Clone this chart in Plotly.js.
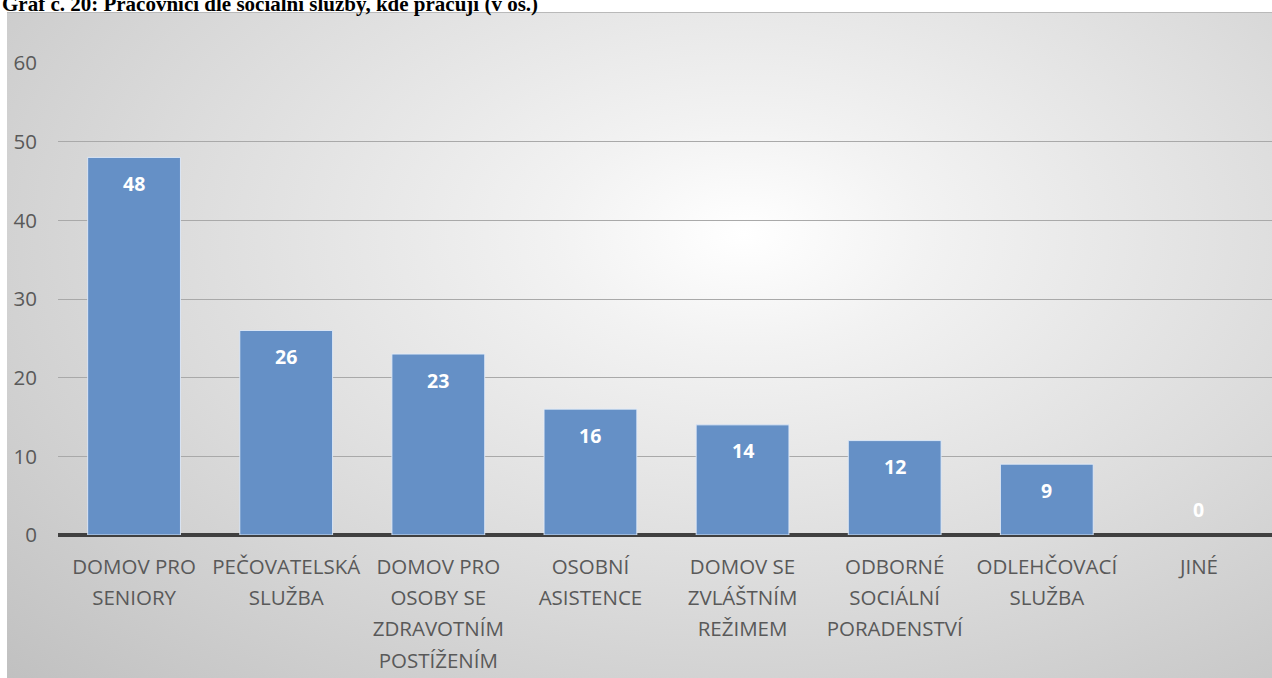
<!DOCTYPE html>
<html>
<head>
<meta charset="utf-8">
<script src="https://cdn.plot.ly/plotly-3.0.1.min.js"></script>
<style>
html, body { margin: 0; padding: 0; overflow: hidden; background: #ffffff; width: 1272px; height: 678px; }
#bg { position: absolute; left: 7px; top: 12px; width: 1270px; height: 670px;
  border-top: 1px solid #b9b9b9;
  background: radial-gradient(ellipse farthest-corner at 58% 33%, #ffffff 0%, #f2f2f2 18%, #dcdcdc 55%, #c0c0c0 100%); }
#chart { position: absolute; left: 0; top: 0; width: 1275px; height: 678px; }
</style>
</head>
<body>
<div id="bg"></div>
<div id="chart"></div>
<script>
const titleText = 'Graf č. 20: Pracovníci dle sociální služby, kde pracují (v os.)';
const categories = [
  'DOMOV PRO<br>SENIORY',
  'PEČOVATELSKÁ<br>SLUŽBA',
  'DOMOV PRO<br>OSOBY SE<br>ZDRAVOTNÍM<br>POSTÍŽENÍM',
  'OSOBNÍ<br>ASISTENCE',
  'DOMOV SE<br>ZVLÁŠTNÍM<br>REŽIMEM',
  'ODBORNÉ<br>SOCIÁLNÍ<br>PORADENSTVÍ',
  'ODLEHČOVACÍ<br>SLUŽBA',
  'JINÉ'
];
const values = [48, 26, 23, 16, 14, 12, 9, 0];
const yTicks = [0, 10, 20, 30, 40, 50, 60];

const tickText = categories.map(c => c.split('<br>').map(l => '<span style="font-size:20.5px">' + l + '</span>').join('<br>'));

const trace = {
  type: 'bar',
  x: categories,
  y: values,
  marker: {
    color: '#6590c6',
    line: { color: 'rgba(225,235,248,0.9)', width: values.map(v => v > 0 ? 1 : 0) }
  },
  hoverinfo: 'x+y',
  cliponaxis: false
};

const labelAnn = categories.map((c, i) => ({
  x: c, y: values[i], xref: 'x', yref: 'y',
  text: '<b>' + values[i] + '</b>',
  showarrow: false,
  yanchor: 'middle',
  yshift: values[i] > 0 ? -26 : 26,
  font: { family: 'Open Sans', size: 19.5, color: '#ffffff' }
}));

const layout = {
  width: 1275, height: 678,
  margin: { l: 58, r: 0, t: 63, b: 143 },
  paper_bgcolor: 'rgba(0,0,0,0)',
  plot_bgcolor: 'rgba(0,0,0,0)',
  bargap: 0.39,
  showlegend: false,
  xaxis: {
    type: 'category',
    tickvals: categories,
    ticktext: tickText,
    tickfont: { family: 'Open Sans', size: 24, color: '#595959' },
    showgrid: false,
    showline: false,
    zeroline: false,
    ticks: '',
    tickangle: 0,
    ticklabelstandoff: 14,
    range: [-0.5, 7.5]
  },
  yaxis: {
    range: [0, 60],
    tickvals: yTicks,
    tickfont: { family: 'Open Sans', size: 20.5, color: '#595959' },
    showgrid: true,
    gridcolor: '#a9a9a9',
    gridwidth: 1,
    zeroline: true,
    zerolinecolor: '#404040',
    zerolinewidth: 4,
    showline: false,
    ticks: '',
    ticklabelstandoff: 20
  },
  annotations: [
    {
      text: '<b>' + titleText + '</b>',
      xref: 'paper', yref: 'paper',
      x: -58 / 1217, y: (535 - 4) / 472,
      xanchor: 'left', yanchor: 'middle',
      showarrow: false,
      font: { family: 'Liberation Serif', size: 21, color: '#000000' }
    }
  ].concat(labelAnn)
};

Plotly.newPlot('chart', [trace], layout, { displayModeBar: false, staticPlot: true });
</script>
</body>
</html>
